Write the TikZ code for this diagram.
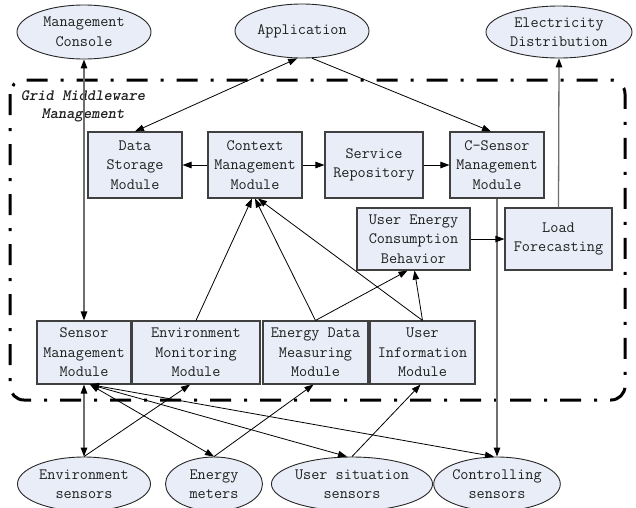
\documentclass[tikz,border=0pt]{standalone}
\usepackage{fontspec}
\usetikzlibrary{shapes.geometric,arrows.meta}
\definecolor{boxfill}{RGB}{232,237,247}
\definecolor{edgegray}{RGB}{64,64,64}
\definecolor{linegray}{RGB}{110,110,110}
\begin{document}
\begin{tikzpicture}[x=1pt,y=-1pt,
  lbl/.style={font=\ttfamily\fontsize{15.8}{19.5}\selectfont, align=center, text=black!88},
  box/.style={lbl, draw=edgegray, line width=1.1pt, fill=boxfill, inner sep=0pt},
  ell/.style={lbl, ellipse, draw=black!85, line width=0.9pt, fill=boxfill, inner sep=0pt},
  arr/.style={-{Triangle[length=9pt,width=6.5pt]}, line width=0.8pt},
  barr/.style={{Triangle[length=9pt,width=6.5pt]}-{Triangle[length=9pt,width=6.5pt]}, line width=0.8pt},
  garr/.style={draw=linegray, line width=1.3pt, -{Triangle[length=9pt,width=6.5pt,color=black]}},
  gbarr/.style={draw=linegray, line width=1.3pt, {Triangle[length=9pt,width=6.5pt,color=black]}-{Triangle[length=9pt,width=6.5pt,color=black]}},
  frame/.style={line width=3pt, dash pattern=on 21pt off 13pt on 3pt off 13pt, rounded corners=14pt},
]
\useasboundingbox (0,0) rectangle (636,507);

% middleware frame
\draw[frame] (10,80) rectangle (625,400);
\node[lbl, font=\ttfamily\bfseries\itshape\fontsize{15.8}{18}\selectfont] (title) at (83,106) {Grid Middleware\\Management};

% outer ellipses
\node[ell, minimum width=134pt, minimum height=54pt] (mc) at (84,32) {Management\\Console};
\node[ell, minimum width=134pt, minimum height=54pt] (app) at (302,31) {Application};
\node[ell, minimum width=146pt, minimum height=52pt] (ed) at (559,32) {Electricity\\Distribution};

\node[ell, minimum width=133pt, minimum height=54pt] (es) at (84,484) {Environment\\sensors};
\node[ell, minimum width=97pt, minimum height=54pt] (emt) at (214,484) {Energy\\meters};
\node[ell, minimum width=148pt, minimum height=54pt] (uss) at (352,484) {User situation\\sensors};
\node[ell, minimum width=119pt, minimum height=54pt] (cts) at (497,484) {Controlling\\sensors};

% modules
\node[box, minimum width=94pt, minimum height=66pt] (ds) at (135,165) {Data\\Storage\\Module};
\node[box, minimum width=94pt, minimum height=66pt] (ctx) at (255,165) {Context\\Management\\Module};
\node[box, minimum width=98pt, minimum height=66pt] (sr) at (374,165) {Service\\Repository};
\node[box, minimum width=94pt, minimum height=66pt] (cs) at (497,165) {C-Sensor\\Management\\Module};
\node[box, minimum width=113pt, minimum height=62pt] (uecb) at (413.5,239) {User Energy\\Consumption\\Behavior};
\node[box, minimum width=107pt, minimum height=62pt] (lf) at (558.5,239) {Load\\Forecasting};
\node[box, minimum width=94pt, minimum height=63pt] (sm) at (84,352.5) {Sensor\\Management\\Module};
\node[box, minimum width=128pt, minimum height=63pt] (em) at (196,352.5) {Environment\\Monitoring\\Module};
\node[box, minimum width=105pt, minimum height=63pt] (edm) at (315.5,352.5) {Energy Data\\Measuring\\Module};
\node[box, minimum width=105pt, minimum height=63pt] (ui) at (422.5,352.5) {User\\Information\\Module};

% connectors (gray)
\draw[gbarr] (mc.south) -- (sm.north);
\draw[garr] (cs.south) -- (cts.north);
\draw[garr] (lf.north) -- (ed.south);
\draw[gbarr] (sm.south) -- (es.north);

% connectors (black)
\draw[barr] (app.-100) -- (ds.north);
\draw[arr] (app.-70) -- ([xshift=-6pt]cs.north);
\draw[arr] (ctx.west) -- (ds.east);
\draw[arr] (ctx.east) -- (sr.west);
\draw[arr] (sr.east) -- (cs.west);
\draw[arr] (uecb.east) -- (lf.west);
\draw[arr] (em.north) -- ([xshift=-3pt]ctx.south);
\draw[arr] (edm.north) -- (ctx.south);
\draw[arr] (ui.north) -- ([xshift=3pt]ctx.south);
\draw[arr] (edm.north) -- ([xshift=-6pt]uecb.south);
\draw[arr] (ui.north) -- ([xshift=1pt]uecb.south);

\draw[arr] (es.north) -- ([xshift=-6pt]em.south);
\draw[barr] ([xshift=6pt]sm.south) -- (emt.north);
\draw[arr] (emt.north) -- ([xshift=-2pt]edm.south);
\draw[barr] ([xshift=6pt]sm.south) -- ([xshift=-5pt]uss.north);
\draw[arr] (uss.north) -- ([xshift=-2pt]ui.south);
\draw[barr] ([xshift=6pt]sm.south) -- ([xshift=-3pt]cts.north);
\end{tikzpicture}
\end{document}
